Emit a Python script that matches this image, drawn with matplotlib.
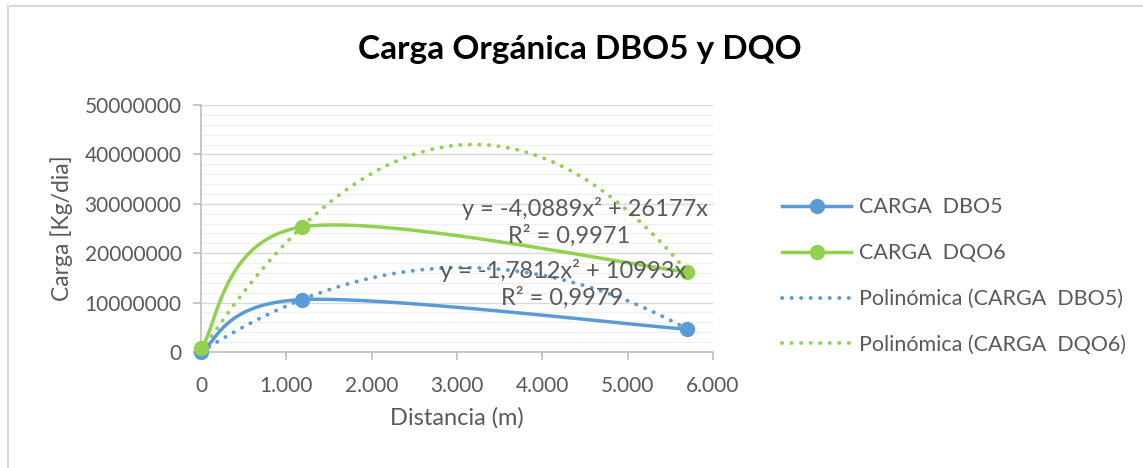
import numpy as np
import matplotlib.pyplot as plt
from matplotlib.lines import Line2D

# data
distancia = [0, 1180, 5700]
carga_dbo5 = [100000, 10600000, 4600000]
carga_dqo6 = [800000, 25300000, 16200000]

series_names = ["CARGA  DBO5", "CARGA  DQO6"]
trend_names = ["Polinómica (CARGA  DBO5)", "Polinómica (CARGA  DQO6)"]
trend_labels_dbo5 = ["y = -1,7812x² + 10993x", "R² = 0,9979"]
trend_labels_dqo6 = ["y = -4,0889x² + 26177x", "R² = 0,9971"]

x_ticks = [0, 1000, 2000, 3000, 4000, 5000, 6000]
x_ticklabels = ["0", "1.000", "2.000", "3.000", "4.000", "5.000", "6.000"]

BLUE = "#5B9BD5"
GREEN = "#92D050"
TXT = "#595959"
DOTS = (0, (0.05, 2.4))

plt.rcParams["font.family"] = ["Lato", "DejaVu Sans"]


def smooth_xy(x, y, xr, yr, n=60):
    # excel-like smoothed line: bezier segments, control points from neighbours
    px = np.asarray(x, float) / xr
    py = np.asarray(y, float) / yr
    pts = np.column_stack([px, py])
    out = []
    for i in range(len(pts) - 1):
        p0 = pts[i - 1] if i > 0 else pts[i]
        p1 = pts[i]
        p2 = pts[i + 1]
        p3 = pts[i + 2] if i + 2 < len(pts) else pts[i + 1]
        c1 = p1 + (p2 - p0) / 6.0
        c2 = p2 - (p3 - p1) / 6.0
        t = np.linspace(0, 1, n)[:, None]
        seg = ((1 - t) ** 3) * p1 + 3 * ((1 - t) ** 2) * t * c1 + 3 * (1 - t) * t ** 2 * c2 + t ** 3 * p2
        out.append(seg)
    out = np.vstack(out)
    return out[:, 0] * xr, out[:, 1] * yr


def poly_trend(x, y):
    # quadratic least squares through origin, like the excel trendline
    x = np.asarray(x, float)
    y = np.asarray(y, float)
    A = np.column_stack([x ** 2, x])
    coef, *_ = np.linalg.lstsq(A, y, rcond=None)
    xs = np.linspace(x.min(), x.max(), 200)
    return xs, coef[0] * xs ** 2 + coef[1] * xs


fig = plt.figure(figsize=(11.43, 4.68), dpi=100)
ax = fig.add_axes([201 / 1143, 1 - 352 / 468, 512 / 1143, 247 / 468])

# chart border (left and top edges)
fig.add_artist(Line2D([8 / 1143, 8 / 1143], [0, 1 - 6 / 468], transform=fig.transFigure, color="#d9d9d9", lw=1.5))
fig.add_artist(Line2D([8 / 1143, 1], [1 - 6 / 468, 1 - 6 / 468], transform=fig.transFigure, color="#d9d9d9", lw=1.5))

ax.set_xlim(0, 6000)
ax.set_ylim(0, 50000000)

# gridlines
ax.set_yticks(np.arange(0, 50000001, 10000000))
ax.set_yticks(np.arange(0, 50000001, 2000000), minor=True)
ax.yaxis.grid(True, which="minor", color="#f0f0f0", lw=1.0)
ax.yaxis.grid(True, which="major", color="#d9d9d9", lw=1.0)
ax.set_axisbelow(True)

for s in ["top", "right"]:
    ax.spines[s].set_visible(False)
for s in ["left", "bottom"]:
    ax.spines[s].set_color("#bfbfbf")
    ax.spines[s].set_linewidth(1.2)

ax.set_xticks(x_ticks)
ax.set_xticklabels(x_ticklabels)
ax.tick_params(axis="both", which="major", length=6, color="#bfbfbf", width=1.2,
               labelsize=15, labelcolor=TXT, pad=8)
ax.tick_params(axis="x", which="major", pad=11)
ax.tick_params(axis="y", which="minor", length=0)
ax.yaxis.set_major_formatter(plt.FuncFormatter(lambda v, p: f"{int(v)}"))

# trendlines
tx, ty = poly_trend(distancia, carga_dbo5)
ax.plot(tx, ty, color=BLUE, lw=2.8, linestyle=DOTS, dash_capstyle="round", zorder=3)
tx, ty = poly_trend(distancia, carga_dqo6)
ax.plot(tx, ty, color=GREEN, lw=2.8, linestyle=DOTS, dash_capstyle="round", zorder=3)

# smoothed series
for yv, c in [(carga_dbo5, BLUE), (carga_dqo6, GREEN)]:
    sx, sy = smooth_xy(distancia, yv, 6000, 50000000)
    ax.plot(sx, sy, color=c, lw=2.5, zorder=4, clip_on=False)
    ax.plot(distancia, yv, "o", color=c, ms=10, zorder=5, clip_on=False)

# trendline equations
ax.text(585 / 1143, 1 - 208 / 468, trend_labels_dqo6[0], transform=fig.transFigure,
        ha="center", va="center", fontsize=17, color=TXT, zorder=6)
ax.text(569 / 1143, 1 - 236 / 468, trend_labels_dqo6[1], transform=fig.transFigure,
        ha="center", va="center", fontsize=17, color=TXT, zorder=6)
ax.text(563 / 1143, 1 - 271 / 468, trend_labels_dbo5[0], transform=fig.transFigure,
        ha="center", va="center", fontsize=17, color=TXT, zorder=6)
ax.text(562 / 1143, 1 - 298 / 468, trend_labels_dbo5[1], transform=fig.transFigure,
        ha="center", va="center", fontsize=17, color=TXT, zorder=6)

ax.set_xlabel("Distancia (m)", fontsize=17, color=TXT, labelpad=8)
ax.set_ylabel("Carga [Kg/dia]", fontsize=16.5, color=TXT, labelpad=8)

fig.text(580 / 1143, 1 - 50 / 468, "Carga Orgánica DBO5 y DQO", ha="center", va="center",
         fontsize=24, fontweight="bold", color="black")

handles = [
    Line2D([], [], color=BLUE, lw=2.5, marker="o", ms=10),
    Line2D([], [], color=GREEN, lw=2.5, marker="o", ms=10),
    Line2D([], [], color=BLUE, lw=2.8, linestyle=DOTS, dash_capstyle="round"),
    Line2D([], [], color=GREEN, lw=2.8, linestyle=DOTS, dash_capstyle="round"),
]
leg = fig.legend(handles, series_names + trend_names, loc="upper left",
                 bbox_to_anchor=(763 / 1143, 1 - 178 / 468), frameon=False,
                 fontsize=15.5, handlelength=3.2, labelspacing=1.2, handletextpad=0.35)
for t in leg.get_texts():
    t.set_color(TXT)

fig.savefig("out.png", dpi=100)
